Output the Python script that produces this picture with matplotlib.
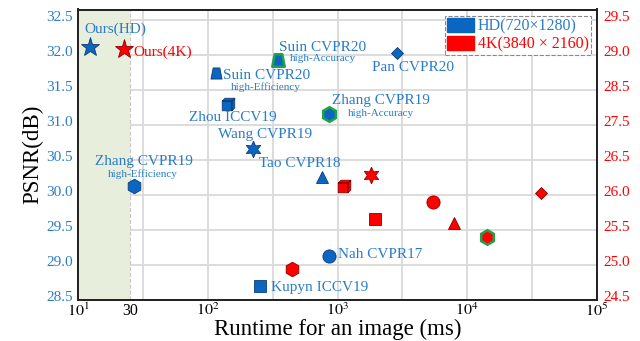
import numpy as np
import matplotlib
matplotlib.use("Agg")
import matplotlib.pyplot as plt
from matplotlib.path import Path
from matplotlib.patches import Patch
import matplotlib.transforms as mtransforms

plt.rcParams['font.family'] = ['Liberation Serif', 'DejaVu Serif']
plt.rcParams['mathtext.fontset'] = 'stix'

# ---------------- data ----------------
hd_methods = ["Ours(HD)", "Suin CVPR20", "Suin CVPR20", "Zhou ICCV19", "Wang CVPR19",
              "Zhang CVPR19", "Tao CVPR18", "Pan CVPR20", "Zhang CVPR19", "Nah CVPR17",
              "Kupyn ICCV19"]
hd_notes = ["", "high-Accuracy", "high-Efficiency", "", "", "high-Efficiency", "", "",
            "high-Accuracy", "", ""]
hd_runtime = [12.3, 350, 115.6, 144, 222, 26.9, 757, 2876, 867, 853, 253]
hd_psnr = [32.12, 31.93, 31.74, 31.30, 30.65, 30.13, 30.25, 32.03, 31.16, 29.13, 28.70]

k4_methods = ["Ours(4K)", "Zhang CVPR19 (HE)", "Zhou ICCV19", "Wang CVPR19", "Kupyn ICCV19",
              "Nah CVPR17", "Tao CVPR18", "Zhang CVPR19 (HA)", "Pan CVPR20"]
k4_runtime = [22.5, 444, 1127, 1811, 1932, 5457, 7960, 14260, 37200]
k4_psnr = [29.08, 24.94, 26.13, 26.28, 25.66, 25.90, 25.60, 25.40, 26.03]

left_ticks = [28.5, 29.0, 29.5, 30.0, 30.5, 31.0, 31.5, 32.0, 32.5]
right_ticks = [24.5, 25.0, 25.5, 26.0, 26.5, 27.5, 28.5, 29.0, 29.5]
x_ticks = [10, 25, 100, 1000, 10000, 100000]
x_ticklabels = ["$10^1$", "30", "$10^2$", "$10^3$", "$10^4$", "$10^5$"]
realtime_bound = 25
legend_labels = ["HD(720\u00d71280)", "4K(3840 \u00d7 2160)"]

# ---------------- styles ----------------
BLUE = "#0b66c2"
BLUE_TXT = "#2a7cc7"
BLUE_EDGE = "#0d3c78"
RED = "#ff0000"
RED_EDGE = "#8a0000"
GREEN = "#1fa34a"

trap = Path([(-1, -1), (1, -1), (0.6, 1), (-0.6, 1), (-1, -1)],
            [Path.MOVETO, Path.LINETO, Path.LINETO, Path.LINETO, Path.CLOSEPOLY])
cube_verts = [(-1, -1), (0.55, -1), (0.55, 0.55), (-1, 0.55), (-1, -1),
              (-1, 0.55), (-0.55, 1), (1, 1), (0.55, 0.55), (-1, 0.55),
              (0.55, -1), (1, -0.55), (1, 1), (0.55, 0.55), (0.55, -1)]
cube_codes = ([Path.MOVETO] + [Path.LINETO] * 3 + [Path.CLOSEPOLY]) * 3
cube = Path(cube_verts, cube_codes)

hd_style = [
    dict(marker='*', ms=14, edge=BLUE_EDGE, ew=0.6),
    dict(marker=trap, ms=9, edge=GREEN, ew=1.8),
    dict(marker=trap, ms=8, edge=BLUE_EDGE, ew=0.6),
    dict(marker=cube, ms=9, edge=BLUE_EDGE, ew=0.6),
    dict(marker=(6, 1, 0), ms=12, edge=BLUE_EDGE, ew=0.6),
    dict(marker='h', ms=10.5, edge=BLUE_EDGE, ew=0.6),
    dict(marker='^', ms=8, edge=BLUE_EDGE, ew=0.6),
    dict(marker='D', ms=6, edge=BLUE_EDGE, ew=0.6),
    dict(marker='h', ms=10.5, edge=GREEN, ew=1.8),
    dict(marker='o', ms=9.5, edge=BLUE_EDGE, ew=0.6),
    dict(marker='s', ms=8, edge=BLUE_EDGE, ew=0.6),
]
k4_style = [
    dict(marker='*', ms=14, edge=RED_EDGE, ew=0.6),
    dict(marker='h', ms=10.5, edge=RED_EDGE, ew=0.6),
    dict(marker=cube, ms=9, edge=RED_EDGE, ew=0.6),
    dict(marker=(6, 1, 0), ms=12, edge=RED_EDGE, ew=0.6),
    dict(marker='s', ms=9, edge=RED_EDGE, ew=0.6),
    dict(marker='o', ms=9.5, edge=RED_EDGE, ew=0.6),
    dict(marker='^', ms=8.5, edge=RED_EDGE, ew=0.6),
    dict(marker='h', ms=10.5, edge=GREEN, ew=1.8),
    dict(marker='D', ms=6, edge=RED_EDGE, ew=0.6),
]

# label offsets in pixels (dx, dy) and alignment
hd_label_pos = [(-6, 17, 'left'), (1, 12, 'left'), (7, -2, 'left'), (4, -14, 'center'),
                (12, 15, 'center'), (10, 24, 'center'), (-22, 14, 'center'),
                (16, -15, 'center'), (3, 13, 'left'), (9, 1, 'left'), (11, -2, 'left')]
hd_note_pos = [None, (11, 1, 'left'), (15, -14, 'left'), None, None, (9, 12, 'center'),
               None, None, (18, 0, 'left'), None, None]

fig = plt.figure(figsize=(6.4, 3.41), dpi=100)
ax = fig.add_axes([78.3 / 640, 1 - 300 / 341, (596.7 - 78.3) / 640, (300 - 9.5) / 341])
ax.set_xscale('log')
ax.set_xlim(10, 1e5)
ax.set_ylim(28.5, 32.65)

# background grid
grid_x = [10 ** 1.5, 10 ** 2, 10 ** 2.5, 10 ** 3, 10 ** 3.5, 10 ** 4, 10 ** 4.5]
for gx in grid_x:
    ax.axvline(gx, color='#d9d9d9', lw=1.3, zorder=0)
for gy in left_ticks:
    ax.axhline(gy, color='#d9d9d9', lw=1.3, zorder=0)
ax.axvspan(10, realtime_bound, color='#e8eedc', zorder=0.5, lw=0)
ax.axvline(realtime_bound, color='#c8c8c8', lw=0.8, ls='--', zorder=0.6)

for x, y, st in zip(hd_runtime, hd_psnr, hd_style):
    ax.plot([x], [y], linestyle='none', marker=st['marker'], markersize=st['ms'],
            markerfacecolor=BLUE, markeredgecolor=st['edge'], markeredgewidth=st['ew'],
            zorder=3)

k4_plot_y = np.interp(k4_psnr, right_ticks, left_ticks)
for x, y, st in zip(k4_runtime, k4_plot_y, k4_style):
    ax.plot([x], [y], linestyle='none', marker=st['marker'], markersize=st['ms'],
            markerfacecolor=RED, markeredgecolor=st['edge'], markeredgewidth=st['ew'],
            zorder=3)

for name, note, x, y, lp, npos in zip(hd_methods, hd_notes, hd_runtime, hd_psnr,
                                      hd_label_pos, hd_note_pos):
    ax.annotate(name, (x, y), xytext=(lp[0], lp[1]), textcoords='offset pixels',
                ha=lp[2], va='center', color=BLUE_TXT, fontsize=11, zorder=4)
    if note:
        ax.annotate(note, (x, y), xytext=(npos[0], npos[1]), textcoords='offset pixels',
                    ha=npos[2], va='center', color=BLUE_TXT, fontsize=8, zorder=4)

ax.annotate(k4_methods[0], (k4_runtime[0], k4_plot_y[0]), xytext=(9, -3),
            textcoords='offset pixels', ha='left', va='center', color=RED, fontsize=11)

# axes
ax.set_yticks(left_ticks)
ax.set_yticklabels([f"{v:.1f}" for v in left_ticks], color=BLUE_TXT, fontsize=11)
ax.set_xticks(x_ticks)
ax.set_xticklabels(x_ticklabels, fontsize=11.5)
ax.xaxis.set_minor_locator(matplotlib.ticker.NullLocator())
ax.tick_params(axis='y', length=0, pad=4)
ax.tick_params(axis='x', length=0, pad=2)
ax.set_xlabel("Runtime for an image (ms)", fontsize=16.5, labelpad=-1)
ax.set_ylabel("PSNR(dB)", fontsize=16.5, labelpad=2)
for sp in ax.spines.values():
    sp.set_linewidth(1.3)
    sp.set_color('#222222')

ax2 = ax.twinx()
ax2.set_ylim(ax.get_ylim())
ax2.set_yticks(left_ticks)
ax2.set_yticklabels([f"{v:.1f}" for v in right_ticks], color=RED, fontsize=11)
ax2.tick_params(axis='y', length=0, pad=5)
for sp in ax2.spines.values():
    sp.set_linewidth(1.3)
    sp.set_color('#222222')

offset = mtransforms.ScaledTranslation(0, 4 / 100, fig.dpi_scale_trans)
for lab in ax.get_yticklabels() + ax2.get_yticklabels():
    lab.set_transform(lab.get_transform() + offset)

handles = [Patch(facecolor=BLUE, edgecolor=BLUE), Patch(facecolor=RED, edgecolor=RED)]
leg = ax2.legend(handles, legend_labels, loc='upper right', bbox_to_anchor=(0.995, 0.99),
                 fontsize=11.5, handlelength=1.7, handleheight=0.95, handletextpad=0.2,
                 borderpad=0.15, labelspacing=0.1, borderaxespad=0.2, fancybox=False,
                 framealpha=1, edgecolor='#888888')
leg.get_frame().set_linestyle('--')
leg.get_frame().set_linewidth(0.8)
leg.get_texts()[0].set_color(BLUE_TXT)
leg.get_texts()[1].set_color(RED)

fig.savefig("out.png", dpi=100)
